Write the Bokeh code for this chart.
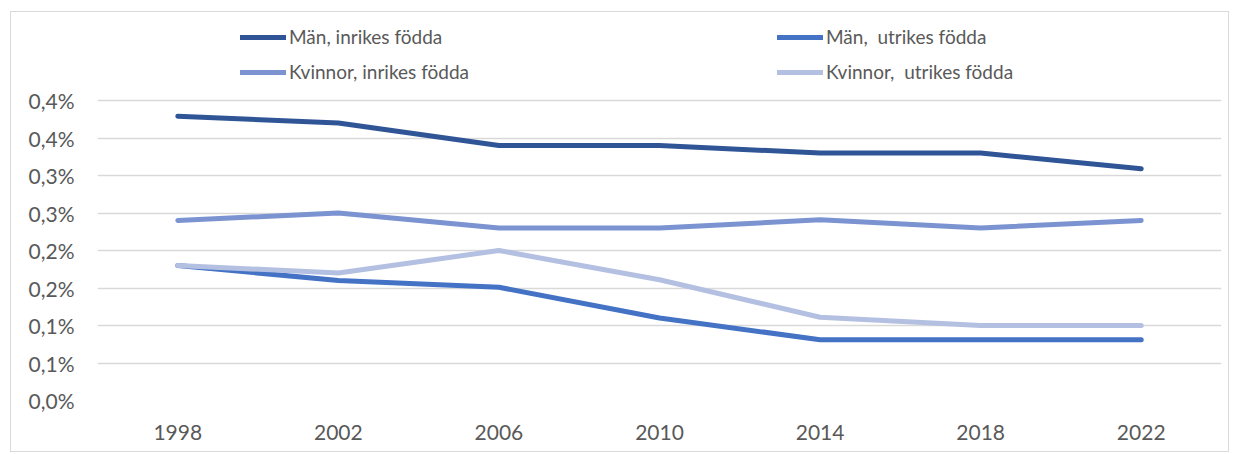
from bokeh.plotting import figure
from bokeh.models import (FactorRange, Range1d, FixedTicker, CustomJSTickFormatter,
                          Legend, LegendItem)
from bokeh.embed import file_html
from bokeh.resources import INLINE

years = ["1998", "2002", "2006", "2010", "2014", "2018", "2022"]
man_inrikes = [0.379, 0.370, 0.340, 0.340, 0.330, 0.330, 0.309]
man_utrikes = [0.180, 0.160, 0.151, 0.110, 0.081, 0.081, 0.081]
kvinnor_inrikes = [0.240, 0.250, 0.230, 0.230, 0.241, 0.230, 0.240]
kvinnor_utrikes = [0.180, 0.170, 0.200, 0.161, 0.111, 0.100, 0.100]

y_ticks = [0.0, 0.05, 0.1, 0.15, 0.2, 0.25, 0.3, 0.35, 0.4]
y_labels = ["0,0%", "0,1%", "0,1%", "0,2%", "0,2%", "0,3%", "0,3%", "0,4%", "0,4%"]

series = [
    ("Män, inrikes födda", man_inrikes, "#2F5597"),
    ("Män,  utrikes födda", man_utrikes, "#4472C4"),
    ("Kvinnor, inrikes födda", kvinnor_inrikes, "#7B93D0"),
    ("Kvinnor,  utrikes födda", kvinnor_utrikes, "#B4C0E1"),
]

FONT = "Lato"
TXT = "#595959"

# frame spans 380 px; gridded part (0..0.4) takes the lower 300 px, legend sits above
y_top = 0.4 * 380 / 300

p = figure(width=1219, height=441, x_range=FactorRange(*years, range_padding=0),
           y_range=Range1d(0, y_top), output_backend="svg", toolbar_location=None,
           min_border_left=86, min_border_right=9, min_border_top=8, min_border_bottom=53)
p.styles = {"border": "1px solid #D9D9D9", "margin-left": "10px", "margin-top": "11px"}
p.outline_line_color = None
p.background_fill_color = "white"

p.xgrid.grid_line_color = None
p.ygrid.grid_line_color = "#D9D9D9"
p.ygrid.grid_line_width = 1.3

p.yaxis.ticker = FixedTicker(ticks=y_ticks)
p.yaxis.formatter = CustomJSTickFormatter(args=dict(vals=y_ticks, labs=y_labels), code="""
let best = 0;
for (let i = 0; i < vals.length; i++) {
  if (Math.abs(vals[i] - tick) < Math.abs(vals[best] - tick)) best = i;
}
return labs[best];
""")
for ax in (p.xaxis[0], p.yaxis[0]):
    ax.axis_line_color = None
    ax.major_tick_line_color = None
    ax.minor_tick_line_color = None
    ax.major_tick_out = 0
    ax.major_tick_in = 0
    ax.major_label_text_font = FONT
    ax.major_label_text_font_size = "21px"
    ax.major_label_text_color = TXT
p.yaxis.major_label_standoff = 23
p.xaxis.major_label_standoff = 24

renderers = {}
for name, vals, color in series:
    r = p.line(years, vals, line_color=color, line_width=5, line_cap="round", line_join="round")
    renderers[name] = r

def make_legend(names, x):
    lg = Legend(items=[LegendItem(label=n, renderers=[renderers[n]]) for n in names],
                location=(x, 317), orientation="vertical")
    lg.border_line_color = None
    lg.background_fill_alpha = 0
    lg.padding = 0
    lg.margin = 0
    lg.spacing = 12
    lg.glyph_width = 46
    lg.glyph_height = 20
    lg.label_height = 20
    lg.label_standoff = 3
    lg.label_text_font = FONT
    lg.label_text_font_size = "19px"
    lg.label_text_color = TXT
    lg.label_text_baseline = "middle"
    return lg

p.add_layout(make_legend(["Män, inrikes födda", "Kvinnor, inrikes födda"], 143), "center")
p.add_layout(make_legend(["Män,  utrikes födda", "Kvinnor,  utrikes födda"], 680), "center")

open("out.html", "w").write(file_html(p, INLINE))
